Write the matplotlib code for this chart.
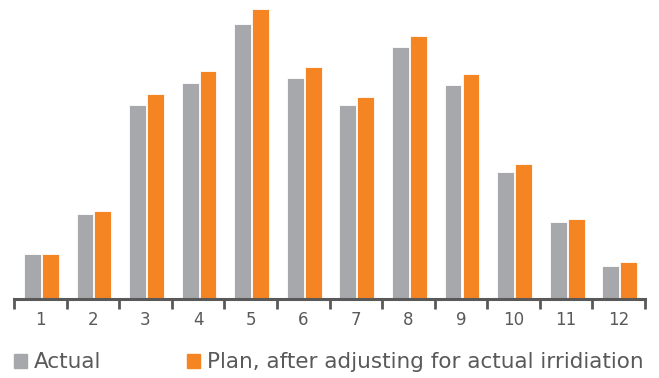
import matplotlib.pyplot as plt
import matplotlib.patches as mpatches
import numpy as np

plt.rcParams['font.family'] = ['DejaVu Sans']

months = ['1', '2', '3', '4', '5', '6', '7', '8', '9', '10', '11', '12']
actual = [45, 85, 194, 216, 275, 221, 194, 252, 214, 127, 77, 33]
plan = [45, 88, 205, 228, 290, 232, 202, 263, 225, 135, 80, 37]

gray = '#A7A8AC'
orange = '#F58423'
text_col = '#595959'

fig = plt.figure(figsize=(6.59, 3.78), dpi=100)
ax = fig.add_axes([14 / 659, (378 - 298.5) / 378, 631 / 659, 298.5 / 378])

x = np.arange(len(months))
w = 0.32
ax.bar(x - w / 2 + 0.01, actual, width=w, color=gray, edgecolor='white', linewidth=0.6)
ax.bar(x + w / 2 + 0.03, plan, width=w, color=orange, edgecolor='white', linewidth=0.6)

ax.set_xlim(-0.5, 11.5)
ax.set_ylim(0, 298.5)

for s in ['top', 'right', 'left']:
    ax.spines[s].set_visible(False)
ax.spines['bottom'].set_color(text_col)
ax.spines['bottom'].set_linewidth(2.2)
ax.set_yticks([])

# boundary ticks between months, labels centred on months
ax.set_xticks(np.arange(-0.5, 12, 1))
ax.set_xticklabels([])
ax.tick_params(axis='x', which='major', length=7, width=2, color=text_col, direction='out')
ax.set_xticks(x, minor=True)
ax.set_xticklabels(months, minor=True)
ax.tick_params(axis='x', which='minor', length=0, pad=9, labelsize=12, labelcolor=text_col)

handles = [mpatches.Patch(color=gray, label='Actual'),
           mpatches.Patch(color=orange, label='Plan, after adjusting for actual irridiation')]
leg = fig.legend(handles=handles, loc='lower left', bbox_to_anchor=(-0.002, -0.025), ncol=2,
                 frameon=False, fontsize=15.5, handlelength=0.62, handleheight=0.62,
                 handletextpad=0.3, columnspacing=4.0, borderaxespad=0.3)
for t in leg.get_texts():
    t.set_color(text_col)

fig.savefig('out.png', dpi=100)
